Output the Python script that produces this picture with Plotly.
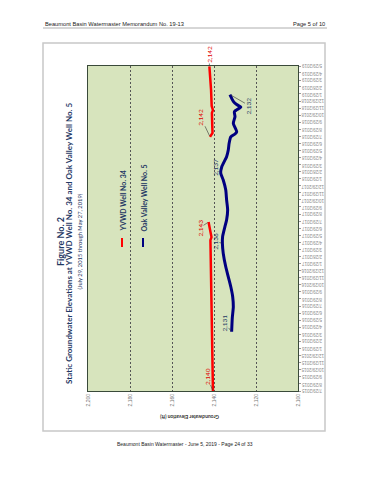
import plotly.graph_objects as go

# ---------------- data ----------------
RED_DATES = ["2015-07-29", "2015-10-27", "2016-03-05", "2016-08-24", "2016-12-31",
             "2017-05-09", "2017-05-22", "2017-07-13", "2017-07-26", "2018-01-15",
             "2018-07-28", "2018-08-14", "2018-09-05", "2018-11-08", "2018-11-20",
             "2018-12-08", "2019-02-15", "2019-05-27"]
RED_VALUES = [2140.5, 2140.7, 2141.0, 2141.1, 2141.4,
              2141.7, 2141.2, 2142.1, 2142.6, None,
              2141.9, 2140.7, 2140.8, 2141.0, 2140.5,
              2141.1, 2141.4, 2142.2]

BLUE_DATES = ["2016-04-09", "2016-06-07", "2016-07-26", "2016-09-07", "2016-10-20",
              "2016-12-02", "2017-01-14", "2017-03-13", "2017-04-25", "2017-05-24",
              "2017-07-06", "2017-08-04", "2017-09-16", "2017-10-29", "2017-12-11",
              "2018-01-23", "2018-02-22", "2018-03-21", "2018-05-03", "2018-06-01",
              "2018-06-30", "2018-07-28", "2018-08-09", "2018-08-19", "2018-09-24",
              "2018-10-23", "2018-11-13", "2018-11-28", "2018-12-03", "2018-12-14",
              "2018-12-28", "2019-01-26"]
BLUE_VALUES = [2131.6, 2131.3, 2130.8, 2131.1, 2132.0,
               2133.2, 2134.4, 2135.6, 2136.0, 2135.9,
               2134.8, 2134.0, 2133.5, 2134.0, 2134.4,
               2135.6, 2136.8, 2136.3, 2134.0, 2133.2,
               2132.8, 2132.0, 2130.0, 2129.2, 2130.8,
               2130.0, 2130.3, 2128.0, 2127.2, 2129.2,
               2130.8, 2132.4]

# data labels: (index, text, dx, dy)
RED_LABELS = [(0, "2,140", -6, -15), (8, "2,143", -9, 6), (10, "2,142", -9, -19), (17, "2,142", 0, -12)]
BLUE_LABELS = [(0, "2,131", -7, -9), (8, "2,136", -7, -2), (16, "2,137", -6, -6), (31, "2,132", 19, 11)]

ELEV_TICKS = [2100, 2120, 2140, 2160, 2180, 2200]
ELEV_TICKTEXT = ["2,100", "2,120", "2,140", "2,160", "2,180", "2,200"]

TICK_DATES = ["2015-07-29", "2015-08-29", "2015-09-29", "2015-10-29", "2015-11-29", "2015-12-29",
              "2016-01-29", "2016-02-29", "2016-03-29", "2016-04-29", "2016-05-29", "2016-06-29",
              "2016-07-29", "2016-08-29", "2016-09-29", "2016-10-29", "2016-11-29", "2016-12-29",
              "2017-01-29", "2017-02-28", "2017-03-29", "2017-04-29", "2017-05-29", "2017-06-29",
              "2017-07-29", "2017-08-29", "2017-09-29", "2017-10-29", "2017-11-29", "2017-12-29",
              "2018-01-29", "2018-02-28", "2018-03-29", "2018-04-29", "2018-05-29", "2018-06-29",
              "2018-07-29", "2018-08-29", "2018-09-29", "2018-10-29", "2018-11-29", "2018-12-29",
              "2019-01-29", "2019-02-28", "2019-03-29", "2019-04-29", "2019-05-29"]


def fmt(d):
    y, m, dd = d.split("-")
    return f"{int(m)}/{int(dd)}/{y}"


TICK_TEXT = [fmt(d) for d in TICK_DATES]

# ---------------- layout helpers (page px -> paper) ----------------
OFF = 8  # default page body margin
L, R, T, B = 88, 298, 66, 391  # plot area in page pixels
W, H = R - L, B - T


def PX(px):
    return (px - L) / W


def PY(py):
    return (B - py) / H


NAVY = "#1f3864"
RED = "#ff0000"
BLUE = "#000080"
TITLE_FONT = "Lato, Noto Sans, sans-serif"
ARIAL = "Liberation Sans, Arial, sans-serif"

fig = go.Figure()
fig.add_trace(go.Scatter(x=RED_VALUES, y=RED_DATES, mode="lines",
                         line=dict(color=RED, width=2.5), connectgaps=False,
                         showlegend=False))
fig.add_trace(go.Scatter(x=BLUE_VALUES, y=BLUE_DATES, mode="lines",
                         line=dict(color=BLUE, width=3, shape="spline", smoothing=0.6),
                         showlegend=False))

annotations = []
for i, txt, dx, dy in RED_LABELS:
    annotations.append(dict(x=RED_VALUES[i], y=RED_DATES[i], xref="x", yref="y", text=txt,
                            textangle=-90, showarrow=True, arrowhead=0, arrowwidth=0.6,
                            arrowcolor="#333", ax=dx, ay=dy, standoff=1,
                            font=dict(family=TITLE_FONT, size=6.5, color="#e00000"),
                            borderpad=0))
for i, txt, dx, dy in BLUE_LABELS:
    annotations.append(dict(x=BLUE_VALUES[i], y=BLUE_DATES[i], xref="x", yref="y", text=txt,
                            textangle=-90, showarrow=True, arrowhead=0, arrowwidth=0.6,
                            arrowcolor="#333", ax=dx, ay=dy, standoff=1,
                            font=dict(family=TITLE_FONT, size=6.5, color=NAVY),
                            borderpad=0))

# date tick labels (upside down, as in the rotated page)
for d, t in zip(TICK_DATES, TICK_TEXT):
    annotations.append(dict(x=PX(300), y=d, xref="paper", yref="y", text=t, textangle=180,
                            xanchor="left", yanchor="middle", showarrow=False,
                            font=dict(family=ARIAL, size=4.5, color="#8a8a8a"), borderpad=0))

# titles
annotations += [
    dict(x=PX(60), y=PY(242), xref="paper", yref="paper", text="<b>Figure No. 2</b>",
         textangle=-90, showarrow=False, xanchor="center", yanchor="middle",
         font=dict(family=TITLE_FONT, size=9, color=NAVY)),
    dict(x=PX(69), y=PY(244), xref="paper", yref="paper",
         text="<b>Static Groundwater Elevations at YVWD Well No. 34 and Oak Valley Well No. 5</b>",
         textangle=-90, showarrow=False, xanchor="center", yanchor="middle",
         font=dict(family=TITLE_FONT, size=8, color=NAVY)),
    dict(x=PX(78.5), y=PY(242), xref="paper", yref="paper",
         text="(July 29, 2015 through May 27, 2019)",
         textangle=-90, showarrow=False, xanchor="center", yanchor="middle",
         font=dict(family=TITLE_FONT, size=5.8, color=NAVY)),
    # legend text
    dict(x=PX(122), y=PY(234), xref="paper", yref="paper", text="<b>YVWD Well No. 34</b>",
         textangle=-90, showarrow=False, yanchor="bottom", xanchor="center",
         font=dict(family=TITLE_FONT, size=7, color=NAVY)),
    dict(x=PX(143), y=PY(234), xref="paper", yref="paper", text="<b>Oak Valley Well No. 5</b>",
         textangle=-90, showarrow=False, yanchor="bottom", xanchor="center",
         font=dict(family=TITLE_FONT, size=7, color=NAVY)),
    # axis title (upside down)
    dict(x=PX(190), y=PY(417), xref="paper", yref="paper", text="<b>Groundwater Elevation (ft)</b>",
         textangle=180, showarrow=False, xanchor="center", yanchor="middle",
         font=dict(family=TITLE_FONT, size=5, color="#333")),
    # page header/footer
    dict(x=PX(43), y=PY(24), xref="paper", yref="paper", xanchor="left", yanchor="middle",
         text="Beaumont Basin Watermaster Memorandum No. 19-13", showarrow=False,
         font=dict(family=ARIAL, size=5.7, color="#222")),
    dict(x=PX(327), y=PY(24), xref="paper", yref="paper", xanchor="right", yanchor="middle",
         text="Page 5 of 10", showarrow=False, font=dict(family=ARIAL, size=5.7, color="#222")),
    dict(x=PX(185), y=PY(444), xref="paper", yref="paper", xanchor="center", yanchor="middle",
         text="Beaumont Basin Watermaster - June 5, 2019 - Page 24 of 33", showarrow=False,
         font=dict(family=ARIAL, size=5, color="#222")),
]

shapes = [
    dict(type="rect", xref="paper", yref="paper", x0=PX(43), x1=PX(325), y0=PY(431), y1=PY(43),
         line=dict(color="#c8c8c8", width=1.5), layer="below"),
    dict(type="line", xref="paper", yref="paper", x0=PX(43), x1=PX(327), y0=PY(28), y1=PY(28),
         line=dict(color="#999", width=0.8)),
    dict(type="line", xref="paper", yref="paper", x0=PX(122), x1=PX(122), y0=PY(238), y1=PY(247),
         line=dict(color=RED, width=2)),
    dict(type="line", xref="paper", yref="paper", x0=PX(143), x1=PX(143), y0=PY(238), y1=PY(247),
         line=dict(color=BLUE, width=2)),
]

fig.update_layout(
    width=370, height=480,
    margin=dict(l=L - OFF, r=370 - (R - OFF), t=T - OFF, b=480 - (B - OFF), autoexpand=False),
    paper_bgcolor="white", plot_bgcolor="#d7e4bd",
    showlegend=False,
    annotations=annotations, shapes=shapes,
    xaxis=dict(range=[2200, 2100], tickvals=ELEV_TICKS, ticktext=ELEV_TICKTEXT,
               tickangle=-90, tickfont=dict(family=ARIAL, size=5, color="#777"),
               showgrid=True, gridcolor="#555", gridwidth=0.6, griddash="2px,2px",
               zeroline=False, showline=True, linecolor="#3a4a3a", linewidth=1, mirror=True,
               ticks="", automargin=False, fixedrange=True),
    yaxis=dict(type="date", side="right", range=["2015-07-29", "2019-05-29"],
               tickvals=TICK_DATES, showticklabels=False,
               ticks="outside", ticklen=2, tickcolor="#999",
               showgrid=False, zeroline=False, showline=True, linecolor="#3a4a3a",
               linewidth=1, mirror=True, automargin=False),
)

fig.write_html("out.html")
